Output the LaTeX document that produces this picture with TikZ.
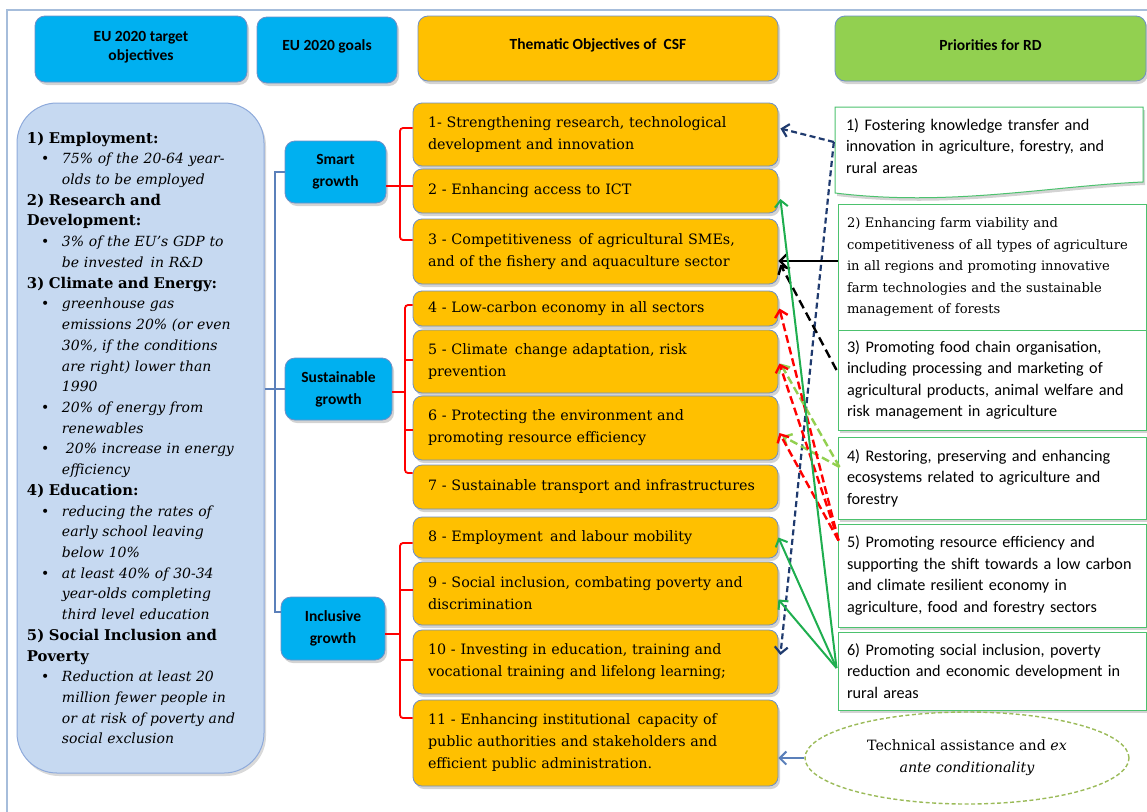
\documentclass[tikz,border=0pt]{standalone}
\usepackage{fontspec}
\setmainfont{DejaVu Serif}
\newfontfamily\calfont{Carlito}
\newfontfamily\camfont{DejaVu Serif}
\usetikzlibrary{arrows.meta,shadows,shapes.geometric,calc}

\definecolor{cyanbox}{HTML}{00B0F0}
\definecolor{orangebox}{HTML}{FFC000}
\definecolor{greenhead}{HTML}{92D050}
\definecolor{leftfill}{HTML}{C6D9F1}
\definecolor{leftdraw}{HTML}{8EAADB}
\definecolor{boxedge}{HTML}{6D8FC7}
\definecolor{framecol}{HTML}{A6BDDB}
\definecolor{prioedge}{HTML}{4CC26E}
\definecolor{navyline}{HTML}{1F3A6E}
\definecolor{steel}{HTML}{5B80BA}
\definecolor{lightgreenline}{HTML}{92D050}
\definecolor{ellipsecol}{HTML}{9BBB59}
\definecolor{greenline}{HTML}{1FAE4F}

\newcommand{\bul}{\hspace*{14pt}\makebox[21pt][l]{\textbullet}}
\newcommand{\cont}{\hspace*{35pt}}

\tikzset{
  shade/.style={drop shadow={opacity=0.35,shadow xshift=2pt,shadow yshift=-3pt}},
  headbox/.style={draw=boxedge, line width=0.8pt, rounded corners=10pt, shade, inner sep=0pt},
  headtext/.style={font=\calfont\bfseries\fontsize{15.5}{19}\selectfont, align=center},
  growthbox/.style={draw=boxedge, fill=cyanbox, line width=0.8pt, rounded corners=10pt, shade,
    font=\calfont\bfseries\fontsize{15.5}{22}\selectfont, align=center, inner sep=0pt},
  themebox/.style={draw=boxedge, fill=orangebox, line width=0.8pt, rounded corners=9pt, shade,
    minimum width=365pt, text width=335pt, inner xsep=15pt, inner ysep=0pt, align=left,
    font=\camfont\fontsize{14.3}{22}\selectfont},
  priotext/.style={text width=290pt, inner xsep=9pt, inner ysep=0pt, align=left,
    font=\calfont\fontsize{16.2}{21.5}\selectfont},
  priobox/.style={priotext, draw=prioedge, fill=white, line width=1pt, shade, minimum width=308pt},
  redline/.style={draw=red, line width=1.8pt, rounded corners=3pt},
  blueline/.style={draw=steel, line width=2.2pt},
  tip/.style={-{Straight Barb[length=6.5pt,width=13pt]}},
  navyarrow/.style={draw=navyline, line width=2.2pt, dash pattern=on 6pt off 3.5pt, tip},
  greenarrow/.style={draw=greenline, line width=2pt, tip},
  blackarrow/.style={draw=black, line width=2.2pt, tip},
  blackdash/.style={draw=black, line width=2.4pt, dash pattern=on 9pt off 5pt, tip},
  redarrow/.style={draw=red, line width=2.4pt, dash pattern=on 8pt off 4pt, tip},
  lgarrow/.style={draw=lightgreenline, line width=2.4pt, dash pattern=on 8pt off 4pt, tip},
}

\begin{document}
\begin{tikzpicture}[x=1pt,y=-1pt]
\useasboundingbox (0,0) rectangle (1147,811);
\clip (0,0) rectangle (1147,811);

% outer frame
\draw[framecol, line width=1.6pt] (1160,10) -- (7,10) -- (7,820);

% column headers
\node[headbox, fill=cyanbox, minimum width=212pt, minimum height=66pt] (h1) at (141,49) {};
\node[headbox, fill=cyanbox, minimum width=140pt, minimum height=66pt] (h2) at (327,50) {};
\node[headbox, fill=orangebox, minimum width=360pt, minimum height=65pt] (h3) at (598,48.5) {};
\node[headbox, fill=greenhead, minimum width=311pt, minimum height=65pt] (h4) at (990.5,48.5) {};
\node[headtext] (t1) at ([yshift=2pt]h1.center) {EU 2020 target\\objectives};
\node[headtext] (t2) at ([yshift=4pt]h2.center) {EU 2020 goals};
\node[headtext] (t3) at ([yshift=3pt]h3.center) {Thematic Objectives of\ \ CSF};
\node[headtext] (t4) at ([yshift=3pt]h4.center) {Priorities for RD};

% EU 2020 targets
\node[draw=leftdraw, fill=leftfill, line width=1pt, rounded corners=40pt,
  drop shadow={opacity=0.3,shadow xshift=2pt,shadow yshift=-3pt},
  minimum width=247pt, minimum height=670pt, text width=227pt, inner xsep=10pt,
  align=left, font=\camfont\fontsize{14}{20.72}\selectfont] (lb) at (140.5,438)
{\textbf{\fontsize{14.8}{20.72}\selectfont 1) Employment:}\\
\bul\textit{75\% of the 20-64 year-}\\
\cont\textit{olds to be employed}\\
\textbf{\fontsize{14.8}{20.72}\selectfont 2) Research and}\\
\textbf{\fontsize{14.8}{20.72}\selectfont Development:}\\
\bul\textit{3\% of the EU’s GDP to}\\
\cont\textit{be invested\, in R\&D}\\
\textbf{\fontsize{14.8}{20.72}\selectfont 3) Climate and Energy:}\\
\bul\textit{greenhouse gas}\\
\cont\textit{emissions 20\% (or even}\\
\cont\textit{30\%, if the conditions}\\
\cont\textit{are right) lower than}\\
\cont\textit{1990}\\
\bul\textit{20\% of energy from}\\
\cont\textit{renewables}\\
\bul\hspace*{4pt}\textit{20\% increase in energy}\\
\cont\textit{efficiency}\\
\textbf{\fontsize{14.8}{20.72}\selectfont 4) Education:}\\
\bul\textit{reducing the rates of}\\
\cont\textit{early school leaving}\\
\cont\textit{below 10\%}\\
\bul\textit{at least 40\% of 30-34}\\
\cont\textit{year-olds completing}\\
\cont\textit{third level education}\\
\textbf{\fontsize{14.8}{20.72}\selectfont 5) Social Inclusion and}\\
\textbf{\fontsize{14.8}{20.72}\selectfont Poverty}\\
\bul\textit{Reduction at least 20}\\
\cont\textit{million fewer people in}\\
\cont\textit{or at risk of poverty and}\\
\cont\textit{social exclusion}};

% EU 2020 goals
\node[growthbox, minimum width=101pt, minimum height=62pt] (sg) at (335.5,172) {Smart\\growth};
\node[growthbox, minimum width=107pt, minimum height=62pt] (ug) at (338.5,389) {Sustainable\\growth};
\node[growthbox, minimum width=104pt, minimum height=63pt] (ig) at (333,628.5) {Inclusive\\growth};

% thematic objectives
\node[themebox, minimum height=63pt] (b1) at (595.5,134.5)
  {1- Strengthening research, technological\\development and innovation};
\node[themebox, minimum height=44pt] (b2) at (595.5,191)
  {2 - Enhancing access to ICT};
\node[themebox, minimum height=65pt] (b3) at (595.5,251.5)
  {3 - Competitiveness\, of agricultural SMEs,\\and of the fishery and aquaculture sector};
\node[themebox, minimum height=35pt] (b4) at (595.5,308.5)
  {4 - Low-carbon economy in all sectors};
\node[themebox, minimum height=63pt] (b5) at (595.5,361.5)
  {5 - Climate\, change adaptation, risk\\prevention};
\node[themebox, minimum height=64pt] (b6) at (595.5,428)
  {6 - Protecting the environment and\\promoting resource efficiency};
\node[themebox, minimum height=44pt] (b7) at (595.5,487)
  {7 - Sustainable transport and infrastructures};
\node[themebox, minimum height=41pt] (b8) at (595.5,537.5)
  {8 - Employment\, and labour mobility};
\node[themebox, minimum height=63pt] (b9) at (595.5,593.5)
  {9 - Social inclusion, combating poverty and\\discrimination};
\node[themebox, minimum height=64pt] (b10) at (595.5,662)
  {10 - Investing in education, training and\\vocational training and lifelong learning;};
\node[themebox, minimum height=86pt] (b11) at (595.5,743)
  {11 - Enhancing institutional\, capacity of\\public authorities and stakeholders and\\efficient public administration.};

% priorities for rural development
\draw[draw=prioedge, fill=white, line width=1pt, shade]
  (835,107) -- (1143,107) -- (1143,182)
  .. controls (1050,186) and (950,207) .. (835,193) -- cycle;
\node[priotext] (p1) at (991,146)
  {1) Fostering knowledge transfer and\\innovation in agriculture, forestry, and\\rural areas};
\node[priobox, minimum height=126pt, text width=290pt, inner xsep=9pt,
  font=\camfont\fontsize{13.1}{21.5}\selectfont] (p2) at (992,267)
  {2) Enhancing farm viability and\\competitiveness of all types of agriculture\\in all regions and promoting innovative\\farm technologies and the sustainable\\management of forests};
\node[priobox, minimum height=100pt] (p3) at (992,380)
  {3) Promoting food chain organisation,\\including processing and marketing of\\agricultural products, animal welfare and\\risk management in agriculture};
\node[priobox, minimum height=82pt] (p4) at (992,478)
  {4) Restoring, preserving and enhancing\\ecosystems related to agriculture and\\forestry};
\node[priobox, minimum height=103pt] (p5) at (992,575.5)
  {5) Promoting resource efficiency and\\supporting the shift towards a low carbon\\and climate resilient economy in\\agriculture, food and forestry sectors};
\node[priobox, minimum height=78pt] (p6) at (992,671)
  {6) Promoting social inclusion, poverty\\reduction and economic development in\\rural areas};

% technical assistance
\node[ellipse, draw=ellipsecol, line width=1.4pt, dash pattern=on 4pt off 2.5pt,
  minimum width=324pt, minimum height=92pt, inner sep=0pt, align=center,
  font=\camfont\fontsize{14.2}{22}\selectfont] (el) at (967,758)
  {Technical assistance and \textit{ex}\\\textit{ante conditionality}};

% goals to targets bracket
\coordinate (bk) at (275,612);
\draw[blueline] (sg.west) -| (bk) -- (ig.west |- bk);
\draw[blueline] (lb.east |- ug.west) -- (ug.west);

% goals to thematic objectives brackets
\coordinate (rs1) at (400,128);
\coordinate (rs3) at (400,240);
\draw[redline] (b1.west |- rs1) -- (rs1) -- (rs3) -- (b3.west |- rs3);
\draw[redline, rounded corners=0pt] (sg.east |- 0,186) -- (b2.west |- 0,186);

\coordinate (ru1) at (405,305);
\coordinate (ru4) at (405,473);
\draw[redline] (b4.west |- ru1) -- (ru1) -- (ru4) -- (b7.west |- ru4);
\draw[redline, rounded corners=0pt] (405,360) -- (b5.west |- 0,360);
\draw[redline, rounded corners=0pt] (405,430) -- (b6.west |- 0,430);
\draw[redline, rounded corners=0pt] (ug.east |- 0,392) -- (405,392);

\coordinate (ri1) at (400,543);
\coordinate (ri4) at (400,718);
\draw[redline] (b8.west |- ri1) -- (ri1) -- (ri4) -- (b11.west |- ri4);
\draw[redline, rounded corners=0pt] (400,590) -- (b9.west |- 0,590);
\draw[redline, rounded corners=0pt] (400,660) -- (b10.west |- 0,660);
\draw[redline, rounded corners=0pt] (ig.east |- 0,634) -- (400,634);

% priorities to thematic objectives
\coordinate (n1) at ($(p1.west)+(-3,-4)$);
\draw[navyarrow] (n1) -- ($(b1.east)+(2,-6)$);
\draw[navyarrow] (n1) -- ($(b10.east)+(2,-7)$);

\coordinate (k2) at ($(p2.west)+(0,-6)$);
\draw[blackarrow] (k2) -- (b3.east |- k2);

\coordinate (k3) at ($(p3.west)+(-1,-10)$);
\draw[blackdash] (k3) -- ($(b3.east)+(2,13)$);

\coordinate (l4) at ($(p4.west)+(2,-11)$);
\draw[lgarrow] (l4) -- ($(b5.east)+(2,2)$);
\draw[lgarrow] (l4) -- ($(b6.east)+(4,8)$);

\coordinate (r5) at ($(p5.north west)+(1,17)$);
\draw[redarrow] (r5) -- ($(b4.east)+(1,0)$);
\draw[redarrow] (r5) -- ($(b5.east)+(1,2)$);
\draw[redarrow] (r5) -- ($(b6.east)+(1,5)$);

\coordinate (g6) at ($(p6.west)+(-1,-3)$);
\draw[greenarrow] (g6) -- ($(b2.east)+(2,8)$);
\draw[greenarrow] (g6) -- ($(b8.east)+(0,0)$);
\draw[greenarrow] (g6) -- ($(b9.east)+(0,6)$);

\draw[steel, line width=2pt, tip] (el.west) -- (b11.east |- el.west);
\end{tikzpicture}
\end{document}
